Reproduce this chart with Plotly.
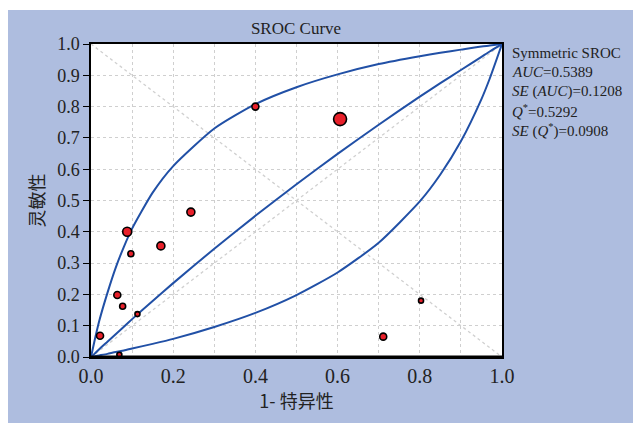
import plotly.graph_objects as go

# Study points (1-specificity, sensitivity) and relative weights (marker size)
study_fpr = [0.40, 0.606, 0.243, 0.088, 0.170, 0.097, 0.064, 0.077, 0.113, 0.022, 0.069, 0.711, 0.803]
study_tpr = [0.80, 0.760, 0.463, 0.400, 0.355, 0.330, 0.198, 0.162, 0.137, 0.068, 0.007, 0.065, 0.180]
study_size = [7, 13, 8, 9, 8, 6, 7, 6, 5, 7, 5, 7, 5]

# SROC curve and its bounds
curve_fpr = [0.0, 0.01, 0.02, 0.04, 0.06, 0.08, 0.10, 0.15, 0.20, 0.30, 0.40, 0.50, 0.60, 0.70, 0.80, 0.85, 0.90, 0.95, 0.97, 1.0]
upper_tpr = [0.0, 0.060, 0.115, 0.205, 0.285, 0.352, 0.410, 0.525, 0.610, 0.730, 0.808, 0.862, 0.903, 0.936, 0.961, 0.972, 0.982, 0.992, 0.995, 1.0]
sroc_tpr  = [0.0, 0.012, 0.025, 0.049, 0.073, 0.097, 0.121, 0.179, 0.236, 0.346, 0.451, 0.552, 0.649, 0.742, 0.832, 0.875, 0.917, 0.959, 0.976, 1.0]
lower_tpr = [0.0, 0.0025, 0.005, 0.010, 0.016, 0.021, 0.027, 0.042, 0.058, 0.096, 0.141, 0.198, 0.270, 0.365, 0.497, 0.583, 0.689, 0.824, 0.889, 1.0]

diag_x = [0, 1]
diag_y = [0, 1]
anti_y = [1, 0]

stats_lines = [
    "Symmetric SROC",
    "<i>AUC</i>=0.5389",
    "<i>SE</i> (<i>AUC</i>)=0.1208",
    "<i>Q</i><sup>*</sup>=0.5292",
    "<i>SE</i> (<i>Q</i><sup>*</sup>)=0.0908",
]

serif = "Liberation Serif, Times New Roman, serif"
cjk = "Noto Sans CJK SC, sans-serif"
curve_color = "#2150A6"
bg_blue = "#AEBDDF"
grid_color = "#CFCFCF"

W, H = 633, 423
L, R, T, B = 91, 131, 44, 66
PW, PH = W - L - R, H - T - B

fig = go.Figure()

diag_style = dict(color="#D0D0D0", width=1.3, dash="dot")
fig.add_trace(go.Scatter(x=diag_x, y=diag_y, mode="lines", line=diag_style, hoverinfo="skip"))
fig.add_trace(go.Scatter(x=diag_x, y=anti_y, mode="lines", line=diag_style, hoverinfo="skip"))

for tpr in (upper_tpr, sroc_tpr, lower_tpr):
    fig.add_trace(go.Scatter(x=curve_fpr, y=tpr, mode="lines",
                             line=dict(color=curve_color, width=2, shape="spline", smoothing=0.6)))

fig.add_trace(go.Scatter(x=study_fpr, y=study_tpr, mode="markers",
                         marker=dict(size=study_size, color="#E8202A", opacity=1,
                                     line=dict(color="black", width=1.6))))

# thick bottom axis line
fig.add_shape(type="line", xref="x", yref="y", x0=0, x1=1, y0=0, y1=0,
              line=dict(color="black", width=3), layer="above")

# white strips at top and left of the blue panel
top_edge = 1 + (T - 10) / PH
left_edge = -(L - 8) / PW
fig.add_shape(type="rect", xref="paper", yref="paper", x0=-0.3, x1=1.4,
              y0=top_edge, y1=1.3, fillcolor="white", line=dict(width=0), layer="below")
fig.add_shape(type="rect", xref="paper", yref="paper", x0=-0.3, x1=left_edge,
              y0=-0.3, y1=1.3, fillcolor="white", line=dict(width=0), layer="below")

ys = [0.971, 0.909, 0.848, 0.786, 0.724]
for txt, yy in zip(stats_lines, ys):
    fig.add_annotation(text=txt, xref="paper", yref="paper", x=1.019, y=yy,
                       xanchor="left", yanchor="middle", showarrow=False,
                       font=dict(family=serif, size=15, color="#222"))

fig.update_layout(
    width=W, height=H,
    margin=dict(l=L, r=R, t=T, b=B),
    paper_bgcolor=bg_blue, plot_bgcolor="white",
    showlegend=False,
    title=dict(text="SROC Curve", x=296 / W, xanchor="center", y=1 - 28 / H, yanchor="middle",
               font=dict(family=serif, size=17, color="#222")),
)
fig.update_xaxes(
    range=[0, 1], dtick=0.2, tickformat=".1f",
    showgrid=True, gridcolor=grid_color, griddash="dot", gridwidth=1,
    minor=dict(dtick=0.1, showgrid=True, gridcolor=grid_color, griddash="dot", gridwidth=1),
    showline=True, linecolor="black", linewidth=1.5, mirror=True,
    ticks="", zeroline=False,
    tickfont=dict(family=serif, size=20, color="#222"),
    title=dict(text="1- 特异性", font=dict(family=cjk, size=18, color="#222"), standoff=8),
)
fig.update_yaxes(
    range=[0, 1], dtick=0.1, tickformat=".1f",
    showgrid=True, gridcolor=grid_color, griddash="dot", gridwidth=1,
    showline=True, linecolor="black", linewidth=1.5, mirror=True,
    ticks="outside", ticklen=6, tickcolor="black", zeroline=False,
    tickfont=dict(family=serif, size=18, color="#222"),
    title=dict(text="灵敏性", font=dict(family=cjk, size=18, color="#222"), standoff=8),
)

fig.write_html("out.html",
               config={"displayModeBar": False},
               post_script="document.body.style.margin='0';"
                           "document.documentElement.style.overflow='hidden';")
